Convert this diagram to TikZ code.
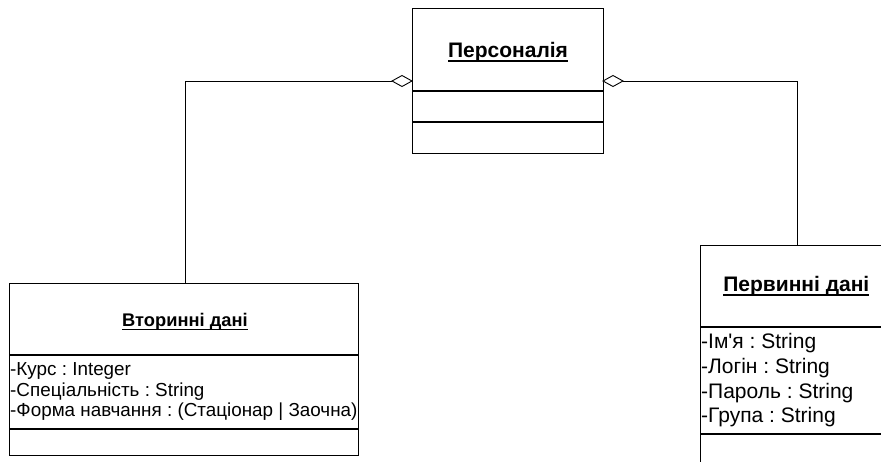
\documentclass[tikz,border=0pt]{standalone}
\usepackage{fontspec}
\newfontfamily\arial{Liberation Sans}
\newcommand\ulbox[1]{\setbox0\hbox{#1}\rlap{\rule[-4.3pt]{\wd0}{1.8pt}}\box0}
\begin{document}
\frenchspacing
\begin{tikzpicture}[x=1pt,y=-1pt,
  box/.style={draw=black,line width=1.3pt,fill=white,inner sep=0pt},
  sep/.style={line width=1.3pt},
  conn/.style={line width=0.8pt},
  agg/.style={draw=black,fill=white,line width=0.9pt},
  ttl/.style={inner sep=0pt,anchor=base},
  attr/.style={inner sep=0pt,anchor=base west}]
\useasboundingbox (0,0) rectangle (881,461);
\begin{scope}
\clip (0,0) rectangle (881,461);
% boxes
\node[box,minimum width=191pt,minimum height=145pt,anchor=north west] (P) at (412,8) {};
\draw[sep] (412,91) -- (603,91);
\draw[sep] (412,122) -- (603,122);
\node[box,minimum width=349pt,minimum height=172pt,anchor=north west] (V) at (9,283) {};
\draw[sep] (9,355) -- (358,355);
\draw[sep] (9,429) -- (358,429);
\node[box,minimum width=200pt,minimum height=240pt,anchor=north west] (F) at (700,245) {};
\draw[sep] (700,327) -- (900,327);
\draw[sep] (700,434) -- (900,434);
% diamonds
\coordinate (dL) at (392,81);
\coordinate (dR) at (623,81);
\draw[agg] (412,81) -- (402,75.5) -- (dL) -- (402,86.5) -- cycle;
\draw[agg] (603,81) -- (613,75.5) -- (dR) -- (613,86.5) -- cycle;
\coordinate (cL) at (185,81);
\coordinate (cR) at (797,81);
\draw[conn] (dL) -- (cL) -- (V.north -| cL);
\draw[conn] (dR) -- (cR) -- (F.north -| cR);
% titles
\node[ttl,font=\arial\bfseries\fontsize{21}{24}\selectfont] (tP) at (508,57.3) {\ulbox{Персоналія}};
\node[ttl,font=\arial\bfseries\fontsize{18.3}{22}\selectfont] (tV) at (185,326) {\ulbox{Вторинні дані}};
\node[ttl,font=\arial\bfseries\fontsize{21}{24}\selectfont] (tF) at (796.3,291.5) {\ulbox{Первинні дані}};
% attributes
\begin{scope}[attr/.append style={font=\arial\fontsize{18.85}{22}\selectfont}]
\node[attr] (v1) at (10,375) {-Курс : Integer};
\node[attr] (v2) at (10,396.6) {-Спеціальність : String};
\node[attr] (v3) at (10,416.8) {-Форма навчання : (Стаціонар | Заочна)};
\end{scope}
\begin{scope}[attr/.append style={font=\arial\fontsize{21}{24}\selectfont}]
\node[attr] (f1) at (701,348.3) {-Ім'я : String};
\node[attr] (f2) at (701,373.3) {-Логін : String};
\node[attr] (f3) at (701,398.3) {-Пароль : String};
\node[attr] (f4) at (701,422.7) {-Група : String};
\end{scope}
\end{scope}
\end{tikzpicture}
\end{document}
